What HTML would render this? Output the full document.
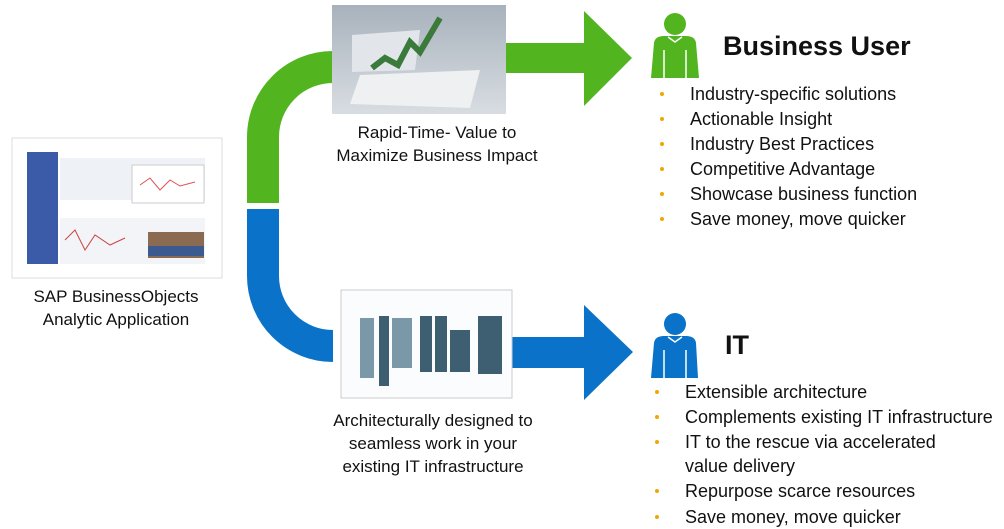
<!DOCTYPE html>
<html><head><meta charset="utf-8"><style>
body{margin:0;width:1004px;height:527px;background:#fff;overflow:hidden;position:relative;font-family:"Liberation Sans",sans-serif;color:#111}
.t{position:absolute;font-size:17px;line-height:23px;text-align:center}
.b{position:absolute;font-size:18px;line-height:25px;white-space:nowrap}
.b div{position:relative}
.b div:before{content:"";position:absolute;left:-30px;top:10px;width:4px;height:4px;border-radius:50%;background:#f0a800}
</style></head><body>
<svg width="1004" height="527" style="position:absolute;left:0;top:0">
<defs>
<linearGradient id="g1" x1="0" y1="0" x2="0" y2="1"><stop offset="0" stop-color="#a8b2bc"/><stop offset="1" stop-color="#d8dde2"/></linearGradient>
</defs>
<path d="M263 203 L263 137 A70 70 0 0 1 333 67" fill="none" stroke="#52b520" stroke-width="32"/>
<path d="M263 209 L263 276 A70 70 0 0 0 333 346" fill="none" stroke="#0a72c8" stroke-width="32"/>
<polygon points="505,43 584,43 584,11 632,58 584,106 584,73 505,73" fill="#52b520"/>
<polygon points="512,337 584,337 584,305 633,352 584,400 584,368 512,368" fill="#0a72c8"/>
<rect x="332" y="5" width="174" height="109" fill="url(#g1)"/>
<polygon points="360,75 480,70 470,108 350,104" fill="#eef0f2"/>
<polygon points="352,35 420,30 415,70 352,72" fill="#e2e6ea"/>
<polyline points="372,68 385,58 398,65 410,42 420,52 440,18" fill="none" stroke="#3a7a3a" stroke-width="6"/>
<rect x="12" y="138" width="210" height="140" fill="#fff" stroke="#ddd"/>
<rect x="27" y="152" width="31" height="112" fill="#3b5aa8"/>
<rect x="60" y="158" width="145" height="42" fill="#eef2f6"/>
<rect x="132" y="165" width="72" height="38" fill="#fff" stroke="#ccc"/>
<polyline points="140,185 150,178 160,190 170,180 180,186 195,182" fill="none" stroke="#e05050" stroke-width="1"/>
<rect x="60" y="218" width="145" height="46" fill="#f2f4f8"/>
<polyline points="65,240 75,230 85,250 95,235 110,245 125,238" fill="none" stroke="#c44" stroke-width="1"/>
<rect x="148" y="232" width="56" height="26" fill="#8a6a50"/>
<rect x="148" y="246" width="56" height="10" fill="#3a5a90"/>
<rect x="341" y="290" width="171" height="108" fill="#fbfcfe" stroke="#ccc"/>
<rect x="360" y="318" width="14" height="60" fill="#7a98a8"/>
<rect x="379" y="316" width="10" height="70" fill="#3e5f72"/>
<rect x="392" y="318" width="20" height="50" fill="#7a98a8"/>
<rect x="420" y="316" width="12" height="56" fill="#3e5f72"/>
<rect x="435" y="316" width="12" height="56" fill="#3e5f72"/>
<rect x="450" y="330" width="20" height="42" fill="#3e5f72"/>
<rect x="478" y="316" width="24" height="58" fill="#3e5f72"/>
<g fill="#52b520"><circle cx="675" cy="24" r="11"/><path d="M654 43 Q655 36 664 36 L686 36 Q695 36 696 43 L699 78 L651 78 Z"/></g>
<g fill="#0a72c8"><circle cx="675" cy="324" r="11"/><path d="M654 343 Q655 336 664 336 L686 336 Q695 336 696 343 L698 378 L651 378 Z"/></g>
<g stroke="#fff" stroke-width="1.5" fill="none"><path d="M668 37 L675 42 L682 37 M664 50 L664 78 M686 50 L686 78"/><path d="M668 337 L675 342 L682 337 M664 350 L664 378 M686 350 L686 378"/></g>
</svg>
<div class="t" style="left:317px;top:121px;width:240px">Rapid-Time- Value to<br>Maximize Business Impact</div>
<div class="t" style="left:-4px;top:285px;width:240px">SAP BusinessObjects<br>Analytic Application</div>
<div class="t" style="left:303px;top:409px;width:260px">Architecturally designed to<br>seamless work in your<br>existing IT infrastructure</div>
<div style="position:absolute;left:723px;top:31px;font-size:27px;font-weight:bold">Business User</div>
<div style="position:absolute;left:725px;top:330px;font-size:27px;font-weight:bold">IT</div>
<div class="b" style="left:690px;top:82px">
<div>Industry-specific solutions</div><div>Actionable Insight</div><div>Industry Best Practices</div><div>Competitive Advantage</div><div>Showcase business function</div><div>Save money, move quicker</div></div>
<div class="b" style="left:685px;top:380px;line-height:24px">
<div>Extensible architecture</div><div style="margin-top:1px">Complements existing IT infrastructure</div><div style="margin-top:1px">IT to the rescue via accelerated<br>value delivery</div><div style="margin-top:1px">Repurpose scarce resources</div><div style="margin-top:2px">Save money, move quicker</div></div>
</body></html>
